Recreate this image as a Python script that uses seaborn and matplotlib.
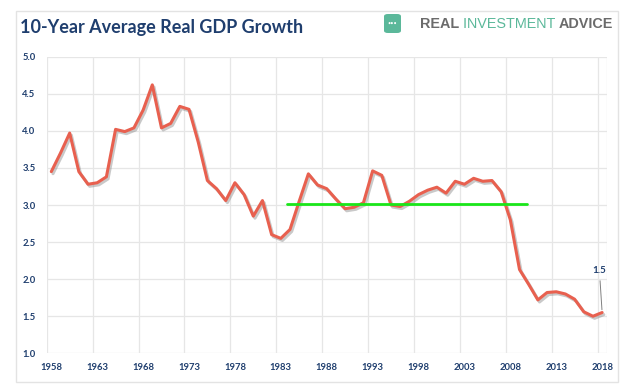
import matplotlib
matplotlib.use("Agg")
import matplotlib.pyplot as plt
import matplotlib.patheffects as pe
from matplotlib.patches import Rectangle, FancyBboxPatch
import seaborn as sns
import pandas as pd

years = list(range(1958, 2019))
gdp_avg = [3.45, 3.70, 3.97, 3.45, 3.28, 3.30, 3.38, 4.02, 3.99, 4.04,
           4.28, 4.62, 4.04, 4.10, 4.33, 4.29, 3.85, 3.33, 3.22, 3.06,
           3.30, 3.14, 2.85, 3.06, 2.60, 2.55, 2.67, 3.05, 3.42, 3.27,
           3.22, 3.08, 2.95, 2.97, 3.03, 3.46, 3.40, 3.00, 2.98, 3.05,
           3.14, 3.20, 3.24, 3.16, 3.32, 3.28, 3.36, 3.32, 3.33, 3.18,
           2.80, 2.13, 1.93, 1.72, 1.82, 1.83, 1.80, 1.73, 1.56, 1.50,
           1.55]
trend_years = [1983.7, 2009.8]
trend_vals = [3.02, 3.02]
tick_years = list(range(1958, 2019, 5))
y_ticks = [1.0, 1.5, 2.0, 2.5, 3.0, 3.5, 4.0, 4.5, 5.0]

df = pd.DataFrame({"year": years, "gdp": gdp_avg})
trend = pd.DataFrame({"year": trend_years, "gdp": trend_vals})

sns.set_style("white")
plt.rcParams["font.family"] = ["Lato", "DejaVu Sans"]

navy = "#1f3e6e"
fig = plt.figure(figsize=(6.4, 3.91), dpi=100)
ax = fig.add_axes([0.073, 0.0964, 0.875, 0.7586])

sns.lineplot(data=df, x="year", y="gdp", ax=ax, color="#e8604f", linewidth=2.2,
             path_effects=[pe.SimpleLineShadow(offset=(1.2, -1.5), shadow_color="#888888", alpha=0.45),
                           pe.Normal()])
sns.lineplot(data=trend, x="year", y="gdp", ax=ax, color="#19e619", linewidth=2.0)

ax.set_xlim(1957.5, 2018.5)
ax.set_ylim(1.0, 5.0)
ax.set_xticks(tick_years)
ax.set_xticks([y - 0.5 for y in tick_years] + [2018.5], minor=True)
ax.set_yticks(y_ticks)
ax.set_yticklabels([f"{v:.1f}" for v in y_ticks])
ax.grid(False)
ax.grid(True, which="minor", axis="x", color="#e6e6e6", linewidth=0.9)
ax.grid(True, which="major", axis="y", color="#e6e6e6", linewidth=0.9)
ax.tick_params(which="both", length=0)
ax.tick_params(axis="x", pad=7)
ax.tick_params(axis="y", pad=8)
for lab in ax.get_xticklabels() + ax.get_yticklabels():
    lab.set_fontsize(6.8)
    lab.set_fontweight("bold")
    lab.set_color(navy)
for s in ax.spines.values():
    s.set_visible(False)
ax.set_xlabel("")
ax.set_ylabel("")

ax.annotate("1.5", xy=(years[-1], gdp_avg[-1]), xytext=(2017.7, 2.06),
            ha="center", va="bottom", fontsize=7, fontweight="bold", color=navy,
            arrowprops=dict(arrowstyle="-", color="#808080", lw=0.7))

# outer frame
fig.patches.append(Rectangle((15.7 / 640, 1 - 382 / 391), (618 - 15.7) / 640, (382 - 11) / 391,
                             transform=fig.transFigure, fill=False, edgecolor="#e3e3e3", linewidth=1))

fig.text(20 / 640, 1 - 28 / 391, "10-Year Average Real GDP Growth", fontsize=13,
         fontweight="bold", color=navy, va="center", ha="left")

# logo
fig.patches.append(FancyBboxPatch((384 / 640, 1 - 33 / 391), 17 / 640, 19 / 391,
                                  boxstyle="round,pad=0,rounding_size=0.006",
                                  transform=fig.transFigure, facecolor="#5bb89a", edgecolor="none"))
fig.text(392.5 / 640, 1 - 23 / 391, "•••", fontsize=4, color="white", ha="center", va="center")
x0 = 420 / 640
t1 = fig.text(x0, 1 - 24 / 391, "REAL ", fontsize=10.4, fontweight="bold", color="#6b6b6b",
              va="center", ha="left", family=["Liberation Sans", "DejaVu Sans"])
fig.canvas.draw()
r = fig.canvas.get_renderer()
bb = t1.get_window_extent(r)
t2 = fig.text(bb.x1 / 640, 1 - 24 / 391, "INVESTMENT ", fontsize=10.4, color="#5bb89a",
              va="center", ha="left", family=["Liberation Sans", "DejaVu Sans"])
bb2 = t2.get_window_extent(r)
fig.text(bb2.x1 / 640, 1 - 24 / 391, "ADVICE", fontsize=10.4, fontweight="bold", color="#6b6b6b",
         va="center", ha="left", family=["Liberation Sans", "DejaVu Sans"])

fig.savefig("out.png", dpi=100)
